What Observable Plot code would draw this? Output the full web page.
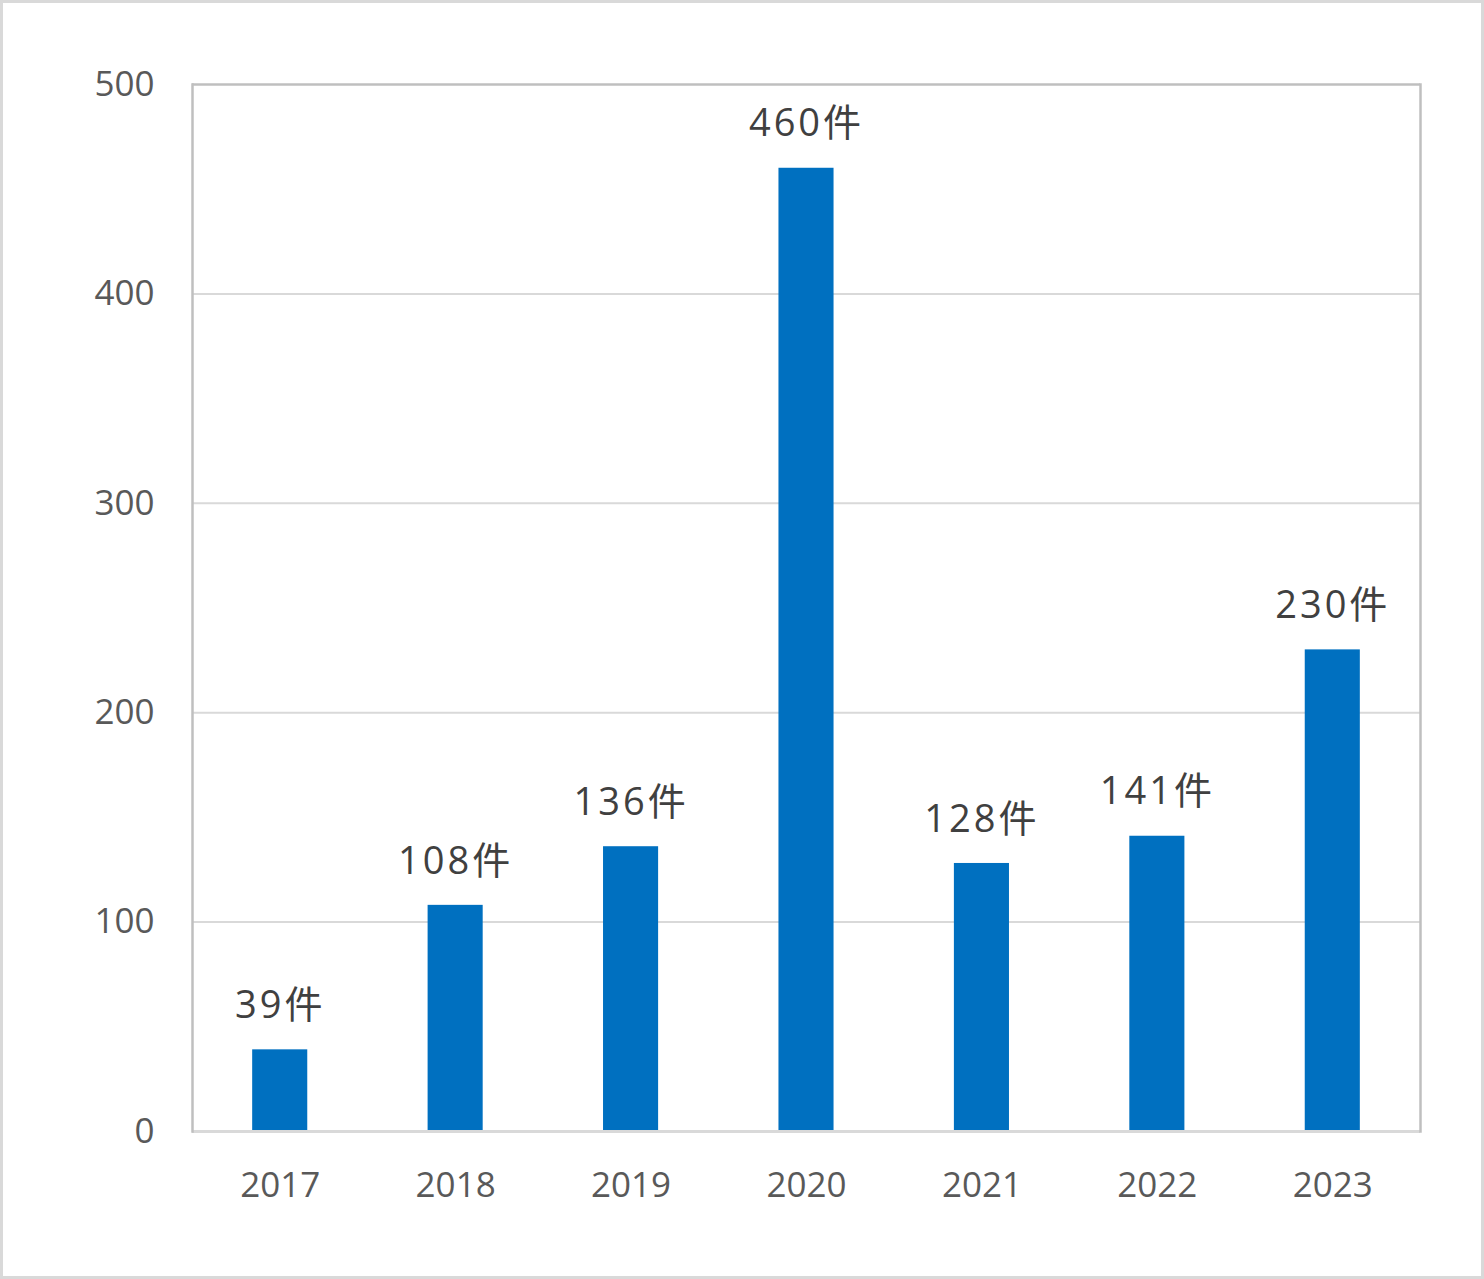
<!DOCTYPE html>
<html>
<head>
<meta charset="utf-8">
<script src="https://cdn.jsdelivr.net/npm/d3@7"></script>
<script src="https://cdn.jsdelivr.net/npm/@observablehq/plot@0.6"></script>
<style>
  html, body { margin: 0; padding: 0; background: #fff; }
  #wrap { position: relative; width: 1484px; height: 1279px; }
  #border { position: absolute; left: 0; top: 0; width: 1484px; height: 1279px; box-sizing: border-box; border: 3px solid #d9d9d9; pointer-events: none; }
  svg { display: block; }
</style>
</head>
<body>
<div id="wrap"><div id="chart"></div><div id="border"></div></div>
<script>
const years = ["2017", "2018", "2019", "2020", "2021", "2022", "2023"];
const counts = [39, 108, 136, 460, 128, 141, 230];
const yTicks = [0, 100, 200, 300, 400, 500];
const gridValues = [100, 200, 300, 400];
const unit = "件";

const data = years.map((y, i) => ({year: y, count: counts[i]}));
const font = "'Open Sans', 'Noto Sans CJK JP', sans-serif";

const chart = Plot.plot({
  width: 1484,
  height: 1279,
  marginLeft: 192,
  marginRight: 64,
  marginTop: 84,
  marginBottom: 148,
  style: {fontFamily: font, background: "#fff"},
  x: {domain: years, paddingInner: 0.686, paddingOuter: 0.343, round: false, label: null},
  y: {domain: [0, 500], label: null},
  marks: [
    Plot.ruleY(gridValues, {stroke: "#d9d9d9", strokeWidth: 2}),
    Plot.barY(data, {x: "year", y: "count", fill: "#0070c0"}),
    Plot.ruleY([0], {stroke: "#d9d9d9", strokeWidth: 3}),
    Plot.ruleY([500], {stroke: "#bfbfbf", strokeWidth: 2.5}),
    Plot.frame({anchor: "left", stroke: "#bfbfbf", strokeWidth: 2.5}),
    Plot.frame({anchor: "right", stroke: "#bfbfbf", strokeWidth: 2.5}),
    Plot.text(data, {x: "year", y: "count", text: d => d.count + unit, dy: -44, fontSize: 38, fill: "#404040", fontFamily: font, letterSpacing: 3}),
    Plot.axisY({ticks: yTicks, tickSize: 0, tickPadding: 38, fontSize: 35, fill: "#595959", label: null}),
    Plot.axisX({tickSize: 0, tickPadding: 41, fontSize: 35, fill: "#595959", label: null})
  ]
});
chart.querySelectorAll("text").forEach(t => {
  if (t.textContent.endsWith("件")) t.style.letterSpacing = "3px";
});
document.getElementById("chart").appendChild(chart);
</script>
</body>
</html>
